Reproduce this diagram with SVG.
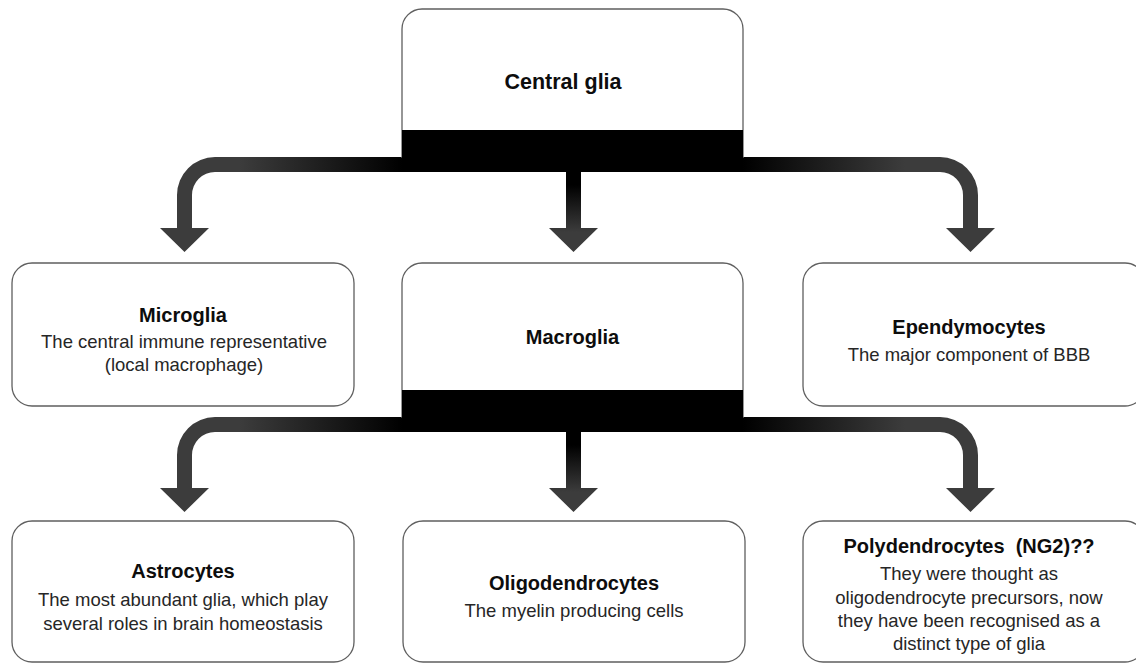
<svg xmlns="http://www.w3.org/2000/svg" xmlns:xlink="http://www.w3.org/1999/xlink" width="1136" height="663" viewBox="0 0 1136 663">
  <style>
    .box { fill: #ffffff; stroke: #5f5f5f; stroke-width: 1.3; }
    .band { fill: #000000; }
    .title { font-family: "Liberation Sans", Arial, sans-serif; font-weight: bold; font-size: 20px; fill: #0d0d0d; text-anchor: middle; }
    .big { font-size: 21.5px; }
    .body { font-family: "Liberation Sans", Arial, sans-serif; font-size: 18.5px; fill: #262626; text-anchor: middle; }
  </style>
  <defs>
    <linearGradient id="gL" gradientUnits="userSpaceOnUse" x1="402" y1="0" x2="240" y2="0">
      <stop offset="0" stop-color="#000000"/>
      <stop offset="1" stop-color="#3c3c3c"/>
    </linearGradient>
    <linearGradient id="gR" gradientUnits="userSpaceOnUse" x1="743" y1="0" x2="905" y2="0">
      <stop offset="0" stop-color="#000000"/>
      <stop offset="1" stop-color="#3c3c3c"/>
    </linearGradient>
    <linearGradient id="gM1" gradientUnits="userSpaceOnUse" x1="0" y1="185" x2="0" y2="232">
      <stop offset="0" stop-color="#000000"/>
      <stop offset="1" stop-color="#3c3c3c"/>
    </linearGradient>
    <linearGradient id="gM2" gradientUnits="userSpaceOnUse" x1="0" y1="445" x2="0" y2="492">
      <stop offset="0" stop-color="#000000"/>
      <stop offset="1" stop-color="#3c3c3c"/>
    </linearGradient>
    <clipPath id="cL"><rect x="0" y="0" width="402" height="663"/></clipPath>
    <clipPath id="cM"><rect x="402" y="0" width="341" height="663"/></clipPath>
    <clipPath id="cR"><rect x="743" y="0" width="393" height="663"/></clipPath>
    <path id="arr1" d="M 215 157 L 940 157 A 38 38 0 0 1 978 195 L 978 228 L 995 228 L 970.5 252 L 946 228 L 963 228 L 963 195 A 23 23 0 0 0 940 172 L 581 172 L 581 228 L 598 228 L 573.5 252 L 549 228 L 566 228 L 566 172 L 215 172 A 23 23 0 0 0 192 195 L 192 228 L 209 228 L 184.5 252 L 160 228 L 177 228 L 177 195 A 38 38 0 0 1 215 157 Z"/>
    <path id="arr2" d="M 215 417 L 940 417 A 38 38 0 0 1 978 455 L 978 488 L 995 488 L 970.5 512 L 946 488 L 963 488 L 963 455 A 23 23 0 0 0 940 432 L 581 432 L 581 488 L 598 488 L 573.5 512 L 549 488 L 566 488 L 566 432 L 215 432 A 23 23 0 0 0 192 455 L 192 488 L 209 488 L 184.5 512 L 160 488 L 177 488 L 177 455 A 38 38 0 0 1 215 417 Z"/>
  </defs>

  <g id="connectors">
    <use xlink:href="#arr1" href="#arr1" fill="url(#gL)" clip-path="url(#cL)"/>
    <use xlink:href="#arr1" href="#arr1" fill="url(#gM1)" clip-path="url(#cM)"/>
    <use xlink:href="#arr1" href="#arr1" fill="url(#gR)" clip-path="url(#cR)"/>
    <use xlink:href="#arr2" href="#arr2" fill="url(#gL)" clip-path="url(#cL)"/>
    <use xlink:href="#arr2" href="#arr2" fill="url(#gM2)" clip-path="url(#cM)"/>
    <use xlink:href="#arr2" href="#arr2" fill="url(#gR)" clip-path="url(#cR)"/>
  </g>

  <g id="central-glia">
    <path class="box" d="M 402 158 L 402 29 A 20 20 0 0 1 422 9 L 723 9 A 20 20 0 0 1 743 29 L 743 158"/>
    <rect class="band" x="402" y="130" width="341" height="28"/>
    <text class="title big" x="563" y="89">Central glia</text>
  </g>

  <g id="microglia">
    <rect class="box" x="12" y="263" width="342" height="143" rx="20" ry="20"/>
    <text class="title" x="183" y="322">Microglia</text>
    <text class="body" x="184" y="348">The central immune representative</text>
    <text class="body" x="184" y="371">(local macrophage)</text>
  </g>

  <g id="macroglia">
    <path class="box" d="M 402 418 L 402 283 A 20 20 0 0 1 422 263 L 723 263 A 20 20 0 0 1 743 283 L 743 418"/>
    <rect class="band" x="402" y="390" width="341" height="28"/>
    <text class="title" x="572.5" y="344">Macroglia</text>
  </g>

  <g id="ependymocytes">
    <rect class="box" x="803" y="263" width="342" height="143" rx="20" ry="20"/>
    <text class="title" x="969" y="334">Ependymocytes</text>
    <text class="body" x="969" y="361">The major component of BBB</text>
  </g>

  <g id="astrocytes">
    <rect class="box" x="12" y="521" width="342" height="141" rx="20" ry="20"/>
    <text class="title" x="183" y="578">Astrocytes</text>
    <text class="body" x="183" y="606">The most abundant glia, which play</text>
    <text class="body" x="183" y="630">several roles in brain homeostasis</text>
  </g>

  <g id="oligodendrocytes">
    <rect class="box" x="403" y="521" width="342" height="141" rx="20" ry="20"/>
    <text class="title" x="574" y="590">Oligodendrocytes</text>
    <text class="body" x="574" y="617">The myelin producing cells</text>
  </g>

  <g id="polydendrocytes">
    <rect class="box" x="803" y="521" width="342" height="141" rx="20" ry="20"/>
    <text class="title" x="969" y="553" xml:space="preserve">Polydendrocytes  (NG2)??</text>
    <text class="body" x="969" y="580">They were thought as</text>
    <text class="body" x="969" y="604">oligodendrocyte precursors, now</text>
    <text class="body" x="969" y="627">they have been recognised as a</text>
    <text class="body" x="969" y="650">distinct type of glia</text>
  </g>
</svg>
